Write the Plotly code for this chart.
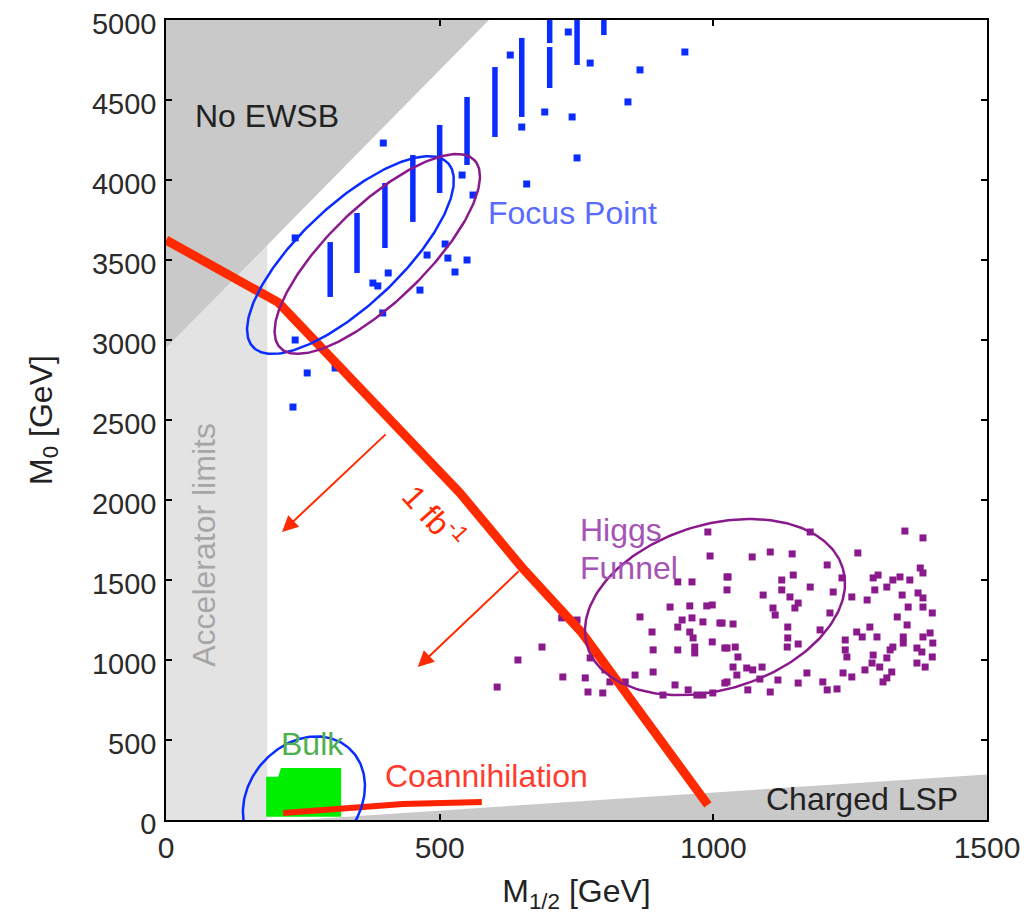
import numpy as np
import plotly.graph_objects as go

# ---------------- data (GeV) ----------------
# Focus point: dense vertical columns (x, y_low, y_high)
col_x = [300, 349, 400, 451, 500, 550, 601, 650, 701, 701, 751, 800]
col_lo = [3269, 3419, 3575, 3738, 3919, 4094, 4269, 4394, 4575, 4856, 4719, 4906]
col_hi = [3612, 3794, 3981, 4156, 4344, 4519, 4706, 4888, 4831, 5000, 5000, 5000]
# Focus point: isolated points
fp_x = [629, 775, 866, 948, 844, 742, 692, 650, 751, 659, 541, 561, 510, 397, 236,
        477, 515, 550, 528, 406, 378, 387, 464, 396, 236, 258, 232, 309, 735]
fp_y = [4781, 4731, 4688, 4800, 4488, 4394, 4425, 4331, 4138, 3975, 4031, 3906, 3600, 4231, 3638,
        3531, 3512, 3500, 3425, 3419, 3356, 3338, 3312, 3169, 3000, 2794, 2581, 2825, 4925]

# Higgs funnel points
higgs_x = [990, 994, 935, 961, 1025, 1025, 921, 957, 988, 998, 866, 943, 935, 961, 981, 1012, 888, 957, 963, 998,
           966, 966, 890, 935, 1025, 890, 857, 930, 954, 1021, 981, 999, 908, 751, 723, 687, 643, 605, 725, 766,
           775, 771, 798, 802, 811, 839,
           1177, 1350, 1383, 1264, 1071, 1104, 1144, 1208, 1378, 1383, 1027, 1125, 1146, 1235, 1292, 1301, 1328,
           1341, 1359, 1091, 1125, 1140, 1177, 1219, 1253, 1295, 1317, 1281, 1345, 1374, 1383, 1155, 1149, 1109,
           1113, 1356, 1383, 1213, 1400, 1336, 1016, 1036, 1136, 1195, 1354, 1286, 1262, 1272, 1299, 1136, 1241,
           1396, 1383, 1347, 1347, 1155, 1135, 1021, 1040, 1328, 1323, 1401, 1372, 1381, 1241, 1244, 1045, 1292,
           1317, 1400, 1036, 1061, 1072, 1089, 1290, 1304, 1372, 1387, 1277, 1043, 1171, 1237, 1253, 1326, 1317,
           1025, 1085, 1118, 1155, 1200, 1310, 1063, 1104, 1208, 1226, 970]
higgs_y = [1800, 1650, 1488, 1488, 1519, 1438, 1331, 1338, 1338, 1344, 1269, 1250, 1206, 1263, 1238, 1231, 1175, 1175,
           1138, 1113, 1081, 1044, 1063, 1063, 1075, 925, 906, 844, 813, 856, 781, 794, 781, 1250, 1263, 1081, 1000,
           831, 894, 888, 1013, 800, 794, 938, 863, 863,
           1800, 1806, 1763, 1669, 1644, 1675, 1663, 1594, 1575, 1544, 1519, 1500, 1531, 1513, 1513, 1531, 1500,
           1519, 1500, 1406, 1438, 1394, 1456, 1425, 1394, 1438, 1456, 1375, 1406, 1419, 1388, 1356, 1325, 1325,
           1281, 1331, 1331, 1294, 1294, 1269, 1231, 1225, 1206, 1188, 1219, 1206, 1175, 1144, 1144, 1138, 1125,
           1169, 1144, 1144, 1106, 1100, 1081, 1075, 1081, 1081, 1063, 1106, 1075, 1050, 1063, 1019, 1019, 1031,
           1013, 1019, 956, 950, 938, 956, 981, 956, 981, 956, 938, 906, 919, 919, 894, 925, 888, 863, 881, 875,
           856, 863, 863, 813, 800, 813, 819, 781]

# Bulk region outline
bulk_x = [183, 183, 205, 210, 320, 320]
bulk_y = [20, 270, 270, 325, 325, 20]

# Coannihilation strip
coann_x = [214, 354, 433, 577]
coann_y = [44, 75, 100, 112]

# 1 fb^-1 reach contour
reach_x = [0, 205, 537, 650, 760, 990]
reach_y = [3625, 3235, 2044, 1580, 1170, 94]

# Excluded regions
ewsb_x = [0, 0, 590, 0]
ewsb_y = [2950, 5000, 5000, 2950]
acc_x = [0, 185, 185, 0, 0]
acc_y = [0, 0, 5000, 5000, 0]
lsp_x = [240, 1500, 1500, 240]
lsp_y = [0, 0, 285, 0]

x_ticks = [0, 500, 1000, 1500]
y_ticks = [0, 500, 1000, 1500, 2000, 2500, 3000, 3500, 4000, 4500, 5000]

# ---------------- layout constants ----------------
BODY = 8                      # default page body margin
ML, MT = 166 - BODY, 20 - BODY
PW, PH = 821, 800
W, H = 1034 - 2 * BODY, 922 - 2 * BODY
MR, MB = W - ML - PW, H - MT - PH
XR, YR = 1500.0, 5000.0
FONT = "Liberation Sans, Arial, sans-serif"

BLUE = "#0a2cff"
PURPLE = "#8a1a8c"
RED = "#ff2a00"


def ellipse(cx, cy, a_px, b_px, ang_deg):
    sx, sy = PW / XR, PH / YR
    t = np.linspace(0, 2 * np.pi, 241)
    th = np.radians(ang_deg)
    ux = a_px * np.cos(t) * np.cos(th) - b_px * np.sin(t) * np.sin(th)
    uy = a_px * np.cos(t) * np.sin(th) + b_px * np.sin(t) * np.cos(th)
    return cx + ux / sx, cy + uy / sy


fig = go.Figure()

# regions
fig.add_trace(go.Scatter(x=acc_x, y=acc_y, fill="toself", fillcolor="#e3e3e3",
                         line=dict(width=0), mode="lines", hoverinfo="skip"))
fig.add_trace(go.Scatter(x=ewsb_x, y=ewsb_y, fill="toself", fillcolor="#c9c9c9",
                         line=dict(width=0), mode="lines", hoverinfo="skip"))
fig.add_trace(go.Scatter(x=lsp_x, y=lsp_y, fill="toself", fillcolor="#c9c9c9",
                         line=dict(width=0), mode="lines", hoverinfo="skip"))

# bulk
fig.add_trace(go.Scatter(x=bulk_x, y=bulk_y, fill="toself", fillcolor="#00ee00",
                         line=dict(width=0, color="#00ee00"), mode="lines", hoverinfo="skip"))
# coannihilation
fig.add_trace(go.Scatter(x=coann_x, y=coann_y, mode="lines",
                         line=dict(color="#ff2200", width=6)))

# focus point columns
cx_, cy_ = [], []
for x, lo, hi in zip(col_x, col_lo, col_hi):
    cx_ += [x, x, None]
    cy_ += [lo, hi, None]
fig.add_trace(go.Scatter(x=cx_, y=cy_, mode="lines", line=dict(color=BLUE, width=5.5)))
fig.add_trace(go.Scatter(x=fp_x, y=fp_y, mode="markers",
                         marker=dict(color=BLUE, size=7, symbol="square")))

# higgs funnel
fig.add_trace(go.Scatter(x=higgs_x, y=higgs_y, mode="markers",
                         marker=dict(color=PURPLE, size=7, symbol="square")))

# reach line
fig.add_trace(go.Scatter(x=reach_x, y=reach_y, mode="lines",
                         line=dict(color=RED, width=9)))

# ellipses
for (ecx, ecy, a, b, ang, col) in [
    (337, 3531, 134, 50, 43.3, BLUE),
    (386, 3538, 135, 48, 44.0, PURPLE),
    (252, 131, 68, 55, 48.6, BLUE),
    (1003, 1331, 133.6, 82.5, 17.0, PURPLE),
]:
    ex, ey = ellipse(ecx, ecy, a, b, ang)
    fig.add_trace(go.Scatter(x=ex, y=ey, mode="lines", line=dict(color=col, width=2.5)))


def txt(x, y, s, color, size=32, angle=0, xanchor="center"):
    fig.add_annotation(x=x, y=y, text=s, showarrow=False, textangle=angle,
                       xanchor=xanchor, yanchor="middle",
                       font=dict(family=FONT, size=size, color=color))


txt(185, 4400, "No EWSB", "#222222")
txt(585, 3794, "Focus Point", "#5a6cff", xanchor="left")
txt(753, 1812, "Higgs", "#a553b5", xanchor="left")
txt(753, 1575, "Funnel", "#a553b5", xanchor="left")
txt(267, 475, "Bulk", "#4fb04f")
txt(585, 275, "Coannihilation", "#ff3b2f")
txt(1272, 131, "Charged LSP", "#222222")
txt(69, 1719, "Accelerator limits", "#a6a6a6", angle=-90)
txt(491, 1900, "1 fb<sup>-1</sup>", RED, size=32, angle=48)

for (tx, ty, hx, hy) in [(404, 2419, 212, 1800), (647, 1563, 460, 956)]:
    fig.add_annotation(x=hx, y=hy, ax=tx, ay=ty, xref="x", yref="y", axref="x", ayref="y",
                       showarrow=True, arrowhead=2, arrowsize=1.6, arrowwidth=2,
                       arrowcolor=RED, text="")

axis_common = dict(showgrid=False, zeroline=False, showline=True, linecolor="black",
                   linewidth=1.5, mirror="ticks", ticks="inside", ticklen=6,
                   tickcolor="black", tickwidth=1.5, automargin=False,
                   ticklabeloverflow="allow")

fig.update_xaxes(range=[0, XR], tickvals=x_ticks, ticktext=[str(v) for v in x_ticks],
                 tickfont=dict(family=FONT, size=30, color="#2a2a2a"),
                 title=dict(text="M<sub>1/2</sub> [GeV]", font=dict(family=FONT, size=32, color="#222222"),
                            standoff=17),
                 ticklabelstandoff=0, **axis_common)
fig.update_yaxes(range=[0, YR], tickvals=y_ticks, ticktext=[str(v) for v in y_ticks],
                 tickfont=dict(family=FONT, size=29, color="#2a2a2a"),
                 title=dict(text="M<sub>0</sub> [GeV]", font=dict(family=FONT, size=32, color="#222222"),
                            standoff=30),
                 ticklabelstandoff=2, ticklabelshift=4, **axis_common)

fig.update_layout(template="none", width=W, height=H, autosize=False,
                  margin=dict(l=ML, r=MR, t=MT, b=MB, pad=0),
                  plot_bgcolor="white", paper_bgcolor="white",
                  showlegend=False, font=dict(family=FONT))

fig.write_html("out.html")
